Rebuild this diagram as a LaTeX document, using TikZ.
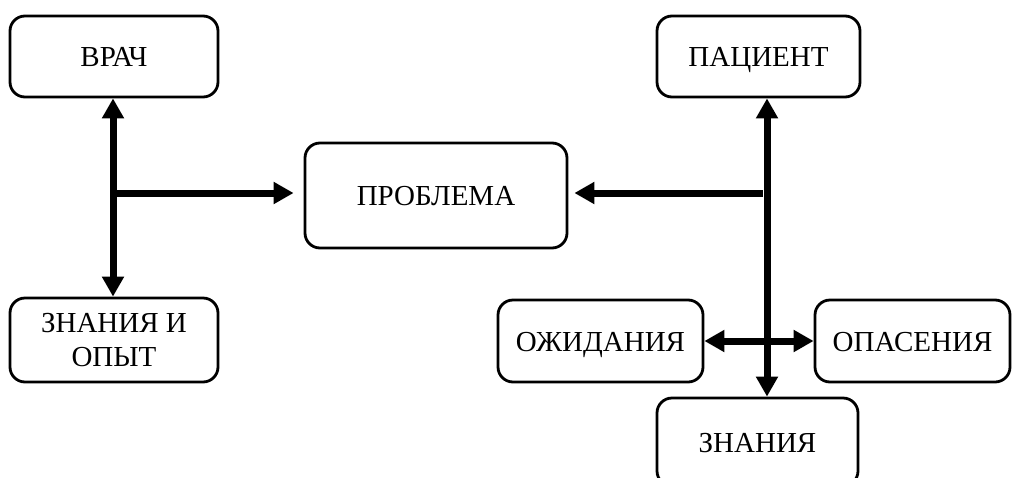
\documentclass[tikz,border=0pt]{standalone}
\usepackage{fontspec}
\setmainfont{Liberation Serif}
\usetikzlibrary{arrows.meta,calc}
\begin{document}
\begin{tikzpicture}[x=1pt,y=-1pt,
  box/.style={draw=black,line width=2.8pt,rounded corners=15pt,fill=white,
    inner sep=0pt,align=center,font=\fontsize{29}{34}\selectfont,
    text height=20pt,text depth=0pt},
  conn/.style={line width=7pt,-{Triangle[length=20pt,width=21pt]}},
  conn2/.style={line width=7pt,{Triangle[length=20pt,width=21pt]}-{Triangle[length=20pt,width=21pt]}}]
\clip (0,0) rectangle (1022,477);
\useasboundingbox (0,0) rectangle (1022,477);
\node[box,minimum width=208pt,minimum height=81pt] (vr) at (114,56.5) {ВРАЧ};
\node[box,minimum width=208pt,minimum height=84pt,text height=,text depth=] (zo) at (114,340) {ЗНАНИЯ И\\ОПЫТ};
\node[box,minimum width=262pt,minimum height=105pt] (pr) at (436,195.5) {ПРОБЛЕМА};
\node[box,minimum width=203pt,minimum height=81pt] (pa) at (758.5,56.5) {ПАЦИЕНТ};
\node[box,minimum width=205pt,minimum height=82pt] (oz) at (600.5,341) {ОЖИДАНИЯ};
\node[box,minimum width=195pt,minimum height=82pt] (op) at (912.5,341) {ОПАСЕНИЯ};
\node[box,minimum width=201pt,minimum height=88pt] (zn) at (757.5,442) {ЗНАНИЯ};
\coordinate (xl) at (113,0);
\coordinate (xr) at (767,0);
\coordinate (jl) at (113,193);
\coordinate (jr) at (767,193);
% left side
\draw[conn2] (vr.south -| xl) -- (zo.north -| xl);
\draw[conn,shorten >=10pt] (jl) -- (jl -| pr.west);
% right side
\draw[conn2] (pa.south -| xr) -- (zn.north -| xr);
\draw[conn2] (oz.east) -- (op.west);
\draw[conn,shorten >=6pt] ($(jr)+(-4,0)$) -- (jr -| pr.east);
\end{tikzpicture}
\end{document}
